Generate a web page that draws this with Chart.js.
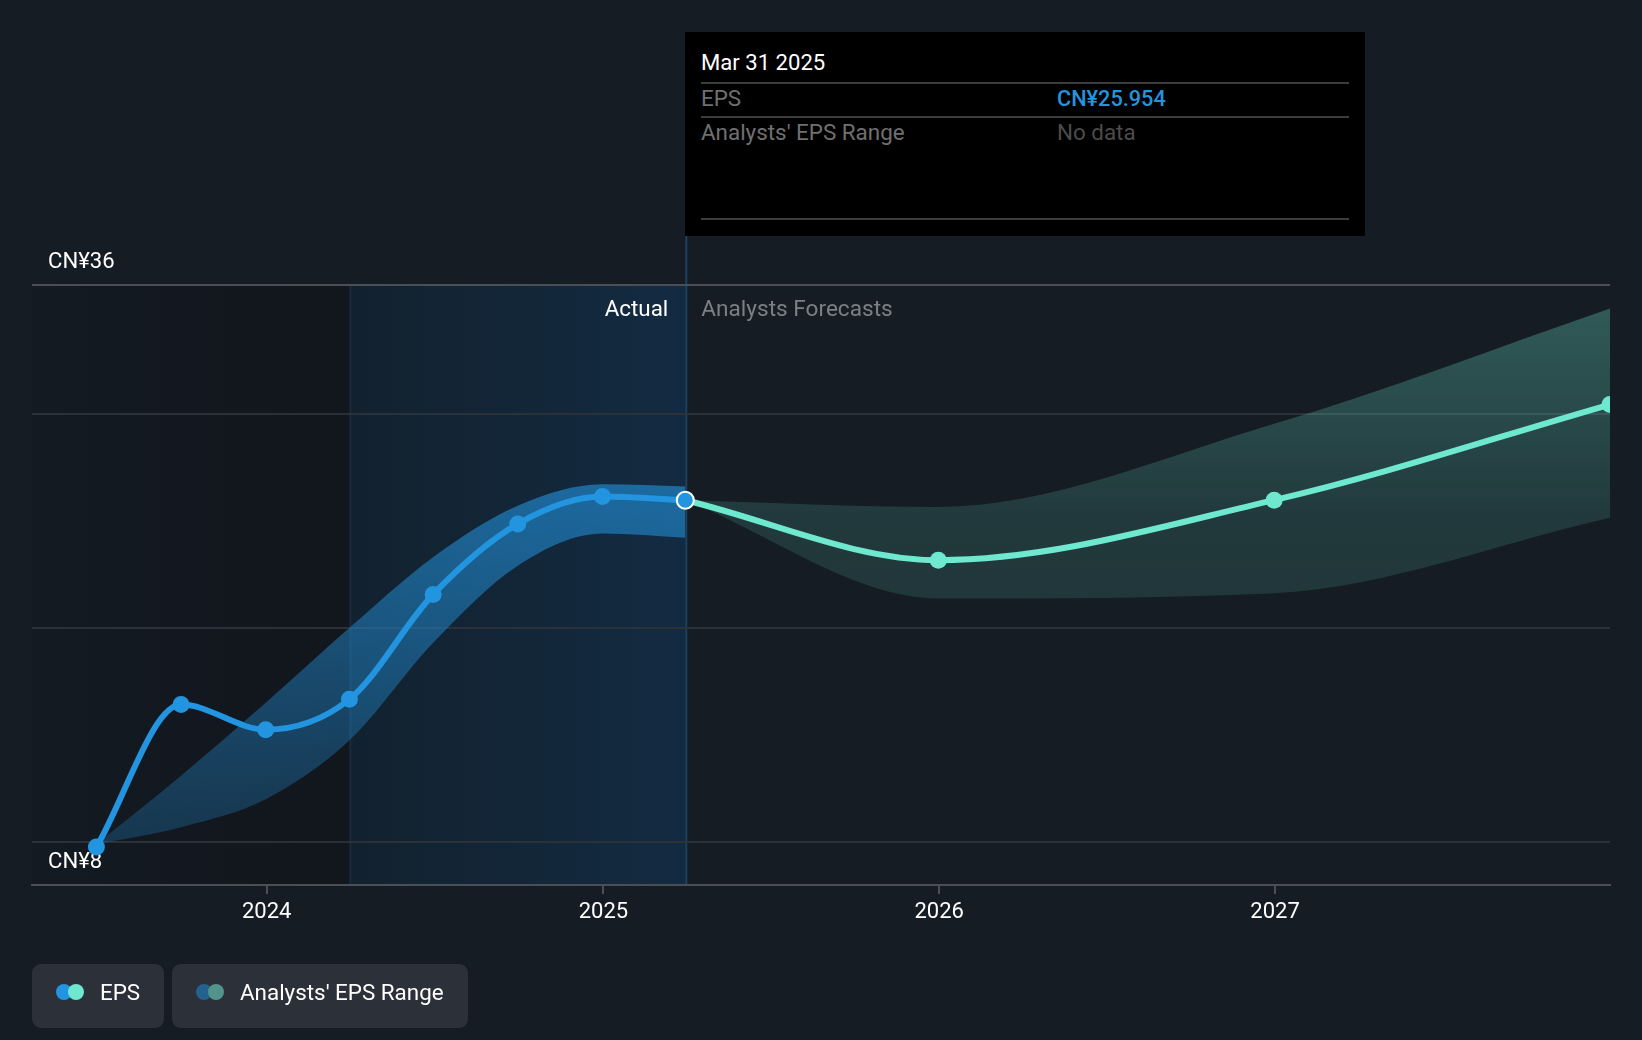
<!DOCTYPE html>
<html><head><meta charset="utf-8">
<script src="https://cdn.jsdelivr.net/npm/chart.js@4/dist/chart.umd.min.js"></script>
<style>
html,body{margin:0;padding:0;background:#151c24;overflow:hidden}
#wrap{position:relative;width:1642px;height:1040px;font-family:Roboto,sans-serif;font-size:22.4px;color:#fff}
canvas{position:absolute;left:0;top:0}
.abs{position:absolute;white-space:nowrap;line-height:26px}
.rule{position:absolute;left:701px;width:648px;height:2px;background:#3c3c3c}
.pill{position:absolute;top:964px;height:64px;background:#2c3038;border-radius:9px}
.dot{position:absolute;top:984px;width:16px;height:16px;border-radius:50%}
</style></head><body>
<div id="wrap">
<canvas id="c" width="1642" height="1040"></canvas>
<div style="position:absolute;left:685px;top:32px;width:680px;height:204px;background:#000"></div>
<div class="abs" style="left:701px;top:49px;font-size:22.1px">Mar 31 2025</div>
<div class="rule" style="top:82px"></div>
<div class="abs" style="left:701px;top:85px;color:#707070">EPS</div>
<div class="abs" style="left:1057px;top:86px;color:#2394df;font-weight:500;font-size:21.7px">CN¥25.954</div>
<div class="rule" style="top:116px"></div>
<div class="abs" style="left:701px;top:119px;color:#707070">Analysts' EPS Range</div>
<div class="abs" style="left:1057px;top:119px;color:#4c4c4c">No data</div>
<div class="rule" style="top:218px"></div>
<div class="pill" style="left:32px;width:132px"></div>
<div class="dot" style="left:56px;background:#2394df"></div>
<div class="dot" style="left:68px;background:#6fe8d0"></div>
<div class="abs" style="left:100px;top:979px">EPS</div>
<div class="pill" style="left:172px;width:296px"></div>
<div class="dot" style="left:196px;background:#25618f"></div>
<div class="dot" style="left:208px;background:#52948b"></div>
<div class="abs" style="left:240px;top:979px">Analysts' EPS Range</div>
</div>
<script>
const actualDates = ['2023-06-30','2023-09-30','2023-12-31','2024-03-31','2024-06-30','2024-09-30','2024-12-31','2025-03-31'];
const actualEps   = [9.77,16.42,15.25,16.67,21.56,24.85,26.13,25.954];
const actualHigh  = [9.9,13.1,16.5,20.0,23.3,25.7,26.7,26.6];
const actualLow   = [9.9,10.7,12.0,14.75,19.3,22.9,24.4,24.2];
const forecastDates = ['2025-03-31','2025-12-31','2026-12-31','2027-12-31'];
const forecastEps   = [25.954,23.16,25.96,30.42];
const forecastHigh  = [25.954,25.64,29.52,34.9];
const forecastLow   = [25.954,21.37,21.62,25.14];
const yearTicks = [2024,2025,2026,2027];
const yGridValues = [8,10,20,30,36];
const axisStart = '2023-04-21', axisEnd = '2027-12-31', pastStart = '2024-03-31', nowDate = '2025-03-31';
const yMin = 8, yMax = 36;

const t = s => Date.parse(s + 'T00:00:00Z');
const pts = (d, v) => d.map((s, i) => ({x: t(s), y: v[i]}));

function vGrad(stops) {
  return ctx => {
    const a = ctx.chart.chartArea;
    if (!a) return stops[0][1];
    const g = ctx.chart.ctx.createLinearGradient(0, a.top, 0, a.bottom);
    stops.forEach(s => g.addColorStop(s[0], s[1]));
    return g;
  };
}
const band = (d, v, fill, bg, order) => ({data: pts(d, v), fill, backgroundColor: bg, borderWidth: 0, pointRadius: 0,
  cubicInterpolationMode: 'monotone', order});

const backdrop = {
  id: 'backdrop',
  beforeDraw(chart) {
    const {ctx, chartArea: a, scales: {x}} = chart;
    const p = x.getPixelForValue(t(pastStart)), n = x.getPixelForValue(t(nowDate));
    ctx.save();
    let g = ctx.createLinearGradient(a.left, 0, p, 0);
    g.addColorStop(0, 'rgba(19,26,34,1)'); g.addColorStop(1, 'rgba(18,22,29,1)');
    ctx.fillStyle = g; ctx.fillRect(a.left, a.top, p - a.left, a.bottom - a.top);
    g = ctx.createLinearGradient(p, 0, n, 0);
    g.addColorStop(0, 'rgba(18,33,46,1)'); g.addColorStop(1, 'rgba(19,43,66,1)');
    ctx.fillStyle = g; ctx.fillRect(p, a.top, n - p, a.bottom - a.top);
    ctx.fillStyle = '#182a3b'; ctx.fillRect(p, a.top, 2, a.bottom - a.top);
    ctx.fillStyle = '#1c4262'; ctx.fillRect(n, 236, 2, a.bottom - 236);
    ctx.restore();
  },
  beforeDatasetsDraw(chart) {
    const {ctx, chartArea: a, scales: {x, y}} = chart;
    const n = x.getPixelForValue(t(nowDate));
    ctx.save();
    ctx.font = '22.1px Roboto'; ctx.textBaseline = 'middle';
    ctx.fillStyle = '#fff'; ctx.textAlign = 'left';
    ctx.fillText('CN¥36', a.left + 16, y.getPixelForValue(36) - 23);
    ctx.fillText('CN¥8', a.left + 16, y.getPixelForValue(8) - 23);
    ctx.textAlign = 'right';
    ctx.font = '22.4px Roboto';
    ctx.fillText('Actual', n - 17, a.top + 25);
    ctx.textAlign = 'left'; ctx.fillStyle = '#7d7f85';
    ctx.font = '22.6px Roboto';
    ctx.fillText('Analysts Forecasts', n + 16, a.top + 25);
    ctx.restore();
  }
};

new Chart(document.getElementById('c'), {
  type: 'line',
  data: {datasets: [
    band(actualDates, actualHigh, '+1', vGrad([[0, 'rgba(35,148,223,0.8)'], [1, 'rgba(35,148,223,0.2)']]), 5),
    band(actualDates, actualLow, false, 'transparent', 5),
    band(forecastDates, forecastHigh, '+1', vGrad([[0, 'rgba(111,232,208,0.32)'], [0.39, 'rgba(111,232,208,0.145)'], [1, 'rgba(111,232,208,0.09)']]), 4),
    band(forecastDates, forecastLow, false, 'transparent', 4),
    {data: pts(forecastDates, forecastEps), borderColor: '#6fe8d0', backgroundColor: '#6fe8d0', borderWidth: 6,
     pointRadius: forecastDates.map((_, i) => i ? 8.5 : 0), pointBorderWidth: 0, cubicInterpolationMode: 'monotone', fill: false, order: 2},
    {data: pts(actualDates, actualEps), borderColor: '#2394df', backgroundColor: '#2394df', borderWidth: 6,
     pointRadius: 8.5,
     pointBorderColor: actualDates.map((_, i) => i === actualDates.length - 1 ? '#fff' : '#2394df'),
     pointBorderWidth: actualDates.map((_, i) => i === actualDates.length - 1 ? 2 : 0),
     cubicInterpolationMode: 'monotone', fill: false, order: 1}
  ]},
  options: {
    responsive: false, animation: false, devicePixelRatio: 1,
    layout: {padding: {left: 32, right: 32, top: 285, bottom: 0}},
    plugins: {legend: {display: false}, tooltip: {enabled: false}},
    scales: {
      x: {
        type: 'linear', min: t(axisStart), max: t(axisEnd),
        afterBuildTicks: s => { s.ticks = yearTicks.map(v => ({value: t(v + '-01-01')})); },
        afterFit: s => { s.height = 155; },
        grid: {drawOnChartArea: false, drawTicks: true, tickLength: 9, color: '#4a4e56', lineWidth: 2},
        border: {color: '#4a4e56', width: 2},
        ticks: {color: '#fff', font: {family: 'Roboto', size: 22}, padding: 5, maxRotation: 0, autoSkip: false,
          callback: v => String(new Date(v).getUTCFullYear())}
      },
      y: {
        min: yMin, max: yMax,
        afterBuildTicks: s => { s.ticks = yGridValues.map(v => ({value: v})); },
        afterFit: s => { s.width = 0; },
        grid: {drawTicks: false, lineWidth: 2,
          color: c => c.tick.value === yMax ? '#4a4e56' : c.tick.value === yMin ? 'rgba(0,0,0,0)' : '#2b3139'},
        border: {display: false},
        ticks: {display: false}
      }
    }
  },
  plugins: [backdrop]
});
</script>
</body></html>
